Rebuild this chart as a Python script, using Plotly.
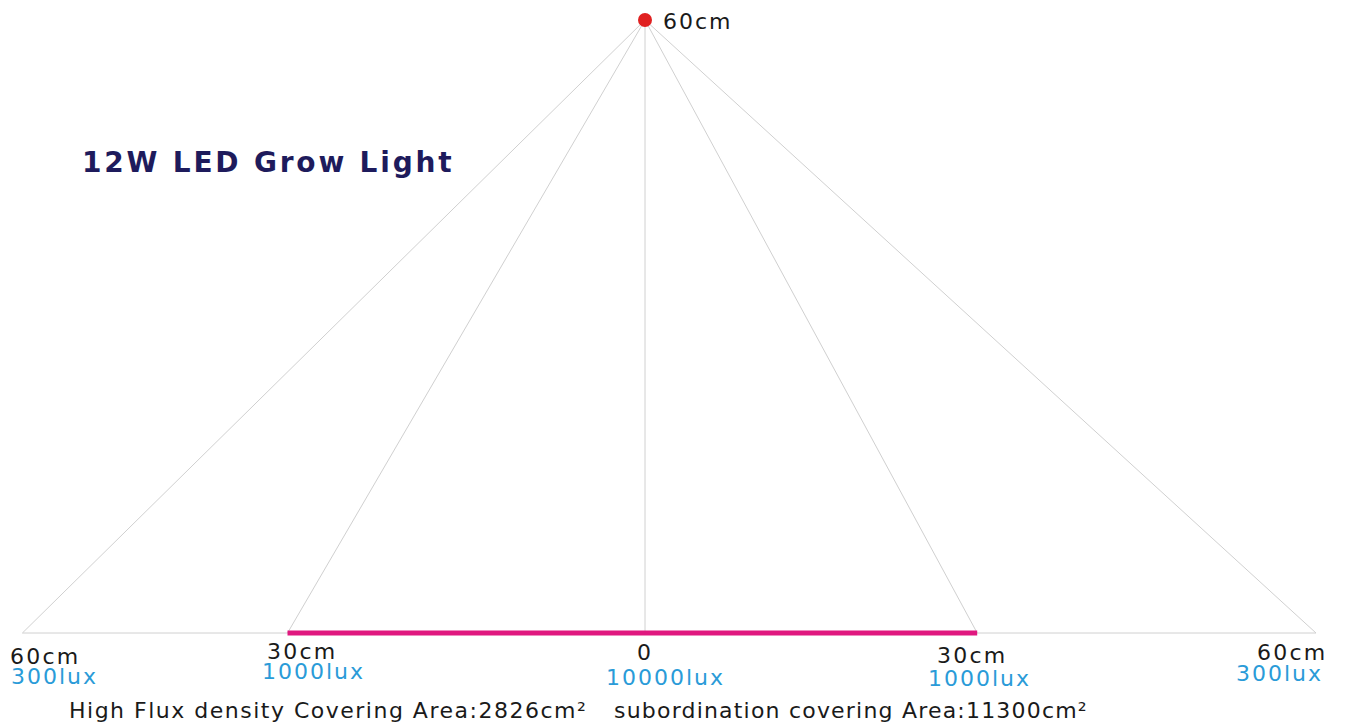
import plotly.graph_objects as go

# Data (horizontal positions in cm, light height in cm)
positions_cm = [-56.6, -32.5, 0.0, 30.2, 61.0]
distance_labels = ["60cm", "30cm", "0", "30cm", "60cm"]
lux_labels = ["300lux", "1000lux", "10000lux", "1000lux", "300lux"]
light_height_cm = 60
high_flux_range = [-32.5, 30.2]
title_text = "12W LED Grow Light"
area_texts = ["High Flux density Covering Area:2826cm²", "subordination covering Area:11300cm²"]

FONT = "DejaVu Sans, Verdana, sans-serif"
GRAY = "#d0d0d0"
BLUE = "#2a9bd8"
DARK = "#1a1a1a"

OFF = 8            # page body margin
W, H = 1345 - OFF, 726 - OFF


def spaced(t, ls):
    return f'<span style="letter-spacing:{ls}px">{t}</span>'


fig = go.Figure()

for x in positions_cm:
    fig.add_trace(go.Scatter(x=[0, x], y=[light_height_cm, 0], mode="lines",
                             line=dict(color=GRAY, width=1), hoverinfo="skip", showlegend=False))
fig.add_trace(go.Scatter(x=[positions_cm[0], positions_cm[-1]], y=[0, 0], mode="lines",
                         line=dict(color=GRAY, width=1), hoverinfo="skip", showlegend=False))
fig.add_trace(go.Scatter(x=high_flux_range, y=[0, 0], mode="lines",
                         line=dict(color="#e0187f", width=5), hoverinfo="skip", showlegend=False))
fig.add_trace(go.Scatter(x=[0], y=[light_height_cm], mode="markers",
                         marker=dict(color="#e02020", size=14), hoverinfo="skip", showlegend=False))

ann = []
ann.append(dict(x=0, y=light_height_cm, text=spaced(f"{light_height_cm}cm", 2), showarrow=False,
                xanchor="center", yanchor="middle", xshift=53, yshift=-1,
                font=dict(family=FONT, size=22, color=DARK)))
dist_shift = [(23, -23), (14, -18), (0, -19), (-5, -22), (-24, -19)]
lux_shift = [(32, -43), (26, -38), (20, -44), (2, -45), (-37, -40)]
for x, d, l, ds, ls in zip(positions_cm, distance_labels, lux_labels, dist_shift, lux_shift):
    ann.append(dict(x=x, y=0, text=spaced(d, 2.2), showarrow=False, xanchor="center", yanchor="middle",
                    xshift=ds[0], yshift=ds[1], font=dict(family=FONT, size=22, color=DARK)))
    ann.append(dict(x=x, y=0, text=spaced(l, 2), showarrow=False, xanchor="center", yanchor="middle",
                    xshift=ls[0], yshift=ls[1], font=dict(family=FONT, size=22, color=BLUE)))
ann.append(dict(xref="paper", yref="paper", x=(80 - OFF) / W, y=1 - (163 - OFF) / H,
                text=f"<b>{spaced(title_text, 2.8)}</b>",
                showarrow=False, xanchor="left", yanchor="middle",
                font=dict(family=FONT, size=28, color="#1e1b5c")))
for xs, t, sp in zip([67, 612], area_texts, [1.5, 1.2]):
    ann.append(dict(xref="paper", yref="paper", x=(xs - OFF) / W, y=1 - (710 - OFF) / H,
                    text=spaced(t, sp), showarrow=False, xanchor="left", yanchor="middle",
                    font=dict(family=FONT, size=22, color=DARK)))

k = 11.0
vy = 613 / 60
fig.update_layout(
    width=W, height=H, margin=dict(l=0, r=0, t=0, b=0),
    paper_bgcolor="white", plot_bgcolor="white",
    xaxis=dict(range=[(OFF - 645) / k, (1345 - 645) / k], visible=False, fixedrange=True),
    yaxis=dict(range=[(633 - 726) / vy, (633 - OFF) / vy], visible=False, fixedrange=True),
    annotations=ann, showlegend=False,
)
fig.write_html("out.html")
